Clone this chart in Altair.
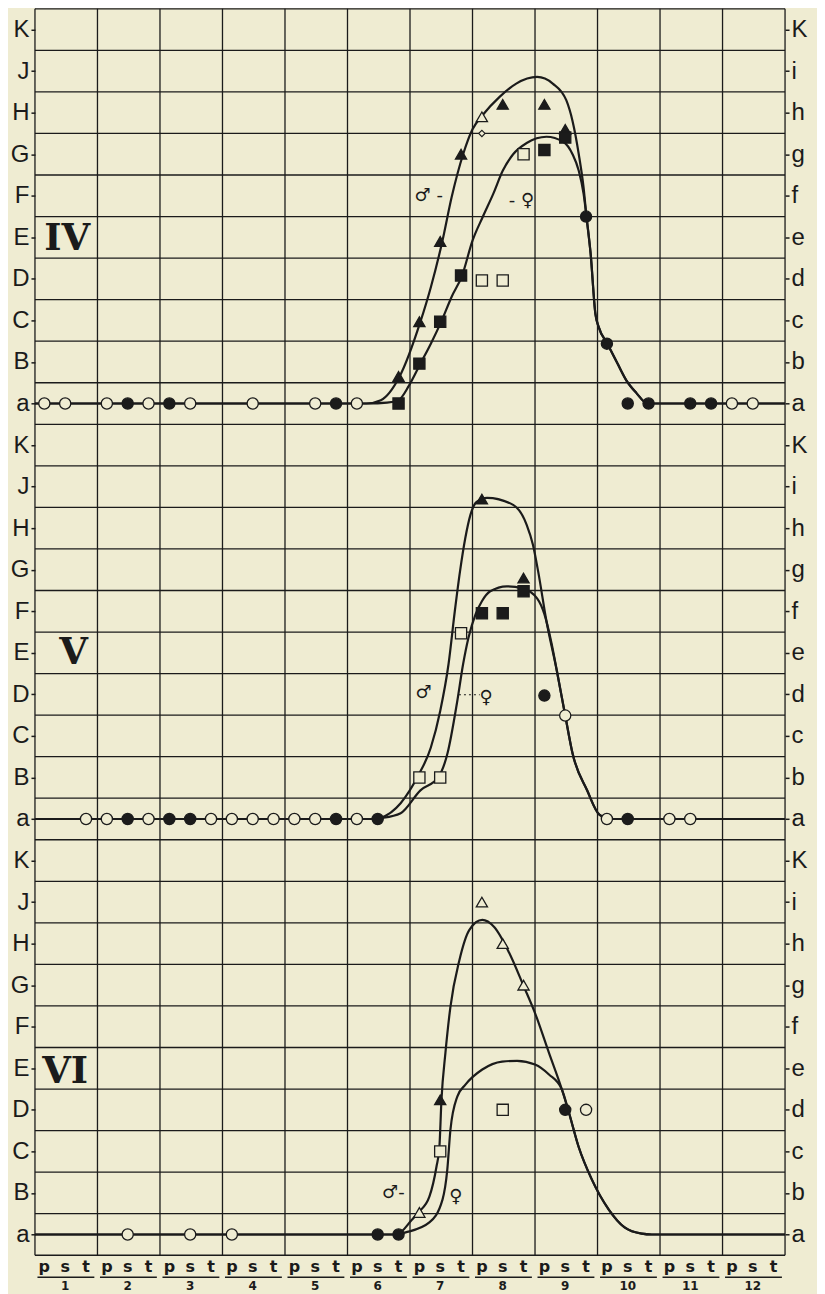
import json
import altair as alt
import pandas as pd

BG = "#efecd2"
INK = "#1b1b1b"
W, H = 751, 1248

# ---------------- axes / categories ----------------
LEFT_LEVELS = ["a", "B", "C", "D", "E", "F", "G", "H", "J", "K"]
RIGHT_LEVELS = ["a", "b", "c", "d", "e", "f", "g", "h", "i", "K"]
SUBS = ["p", "s", "t"]
GROUPS = [str(g) for g in range(1, 13)]
PANELS = ["IV", "V", "VI"]
PANEL_BASE = {"IV": 20, "V": 10, "VI": 0}
SLOT_CENTER = 0.45

# ---------------- Panel IV markers (slot index 0..35, level a=0 .. K=9) ----------------
IV_CIRCLE_SLOT = [0, 1, 3, 4, 5, 6, 7, 10, 13, 14, 15, 26, 27, 28, 29, 31, 32, 33, 34]
IV_CIRCLE_LEVEL = [0, 0, 0, 0, 0, 0, 0, 0, 0, 0, 0, 4.5, 1.44, 0, 0, 0, 0, 0, 0]
IV_CIRCLE_STATE = ["o", "o", "o", "f", "o", "f", "o", "o", "o", "f", "o", "f", "f", "f", "f", "f", "f", "o", "o"]
IV_TRI_SLOT = [17, 18, 19, 20, 21, 22, 24, 25]
IV_TRI_LEVEL = [0.65, 1.97, 3.9, 6.0, 6.9, 7.2, 7.2, 6.6]
IV_TRI_STATE = ["f", "f", "f", "f", "o", "f", "f", "f"]
IV_SQ_SLOT = [17, 18, 19, 20, 21, 22, 23, 24, 25]
IV_SQ_LEVEL = [0.0, 0.96, 1.97, 3.08, 2.96, 2.96, 6.0, 6.1, 6.4]
IV_SQ_STATE = ["f", "f", "f", "f", "o", "o", "o", "f", "f"]
IV_SMALL_SLOT = [21]
IV_SMALL_LEVEL = [6.5]

# ---------------- Panel V markers ----------------
V_CIRCLE_SLOT = [2, 3, 4, 5, 6, 7, 8, 9, 10, 11, 12, 13, 14, 15, 16, 24, 25, 27, 28, 30, 31]
V_CIRCLE_LEVEL = [0] * 15 + [2.97, 2.49, 0, 0, 0, 0]
V_CIRCLE_STATE = ["o", "o", "f", "o", "f", "f", "o", "o", "o", "o", "o", "o", "f", "o", "f",
                  "f", "o", "o", "f", "o", "o"]
V_TRI_SLOT = [21, 23]
V_TRI_LEVEL = [7.7, 5.8]
V_TRI_STATE = ["f", "f"]
V_SQ_SLOT = [18, 19, 20, 21, 22, 23]
V_SQ_LEVEL = [1.0, 1.0, 4.47, 4.95, 4.95, 5.48]
V_SQ_STATE = ["o", "o", "o", "f", "f", "f"]

# ---------------- Panel VI markers ----------------
VI_CIRCLE_SLOT = [4, 7, 9, 16, 17, 25, 26]
VI_CIRCLE_LEVEL = [0, 0, 0, 0, 0, 3.0, 3.0]
VI_CIRCLE_STATE = ["o", "o", "o", "f", "f", "f", "o"]
VI_TRI_SLOT = [18, 19, 21, 22, 23]
VI_TRI_LEVEL = [0.53, 3.24, 8.0, 7.0, 6.0]
VI_TRI_STATE = ["o", "f", "o", "o", "o"]
VI_SQ_SLOT = [19, 22]
VI_SQ_LEVEL = [2.0, 3.0]
VI_SQ_STATE = ["o", "o"]

# ---------------- hand-drawn curves (x in slot units, y in levels) ----------------
IV_MALE_X = [0, 15.9, 16.6, 17.5, 18.5, 19.0, 19.55, 20.0, 20.55, 21.0, 21.5, 22.3, 23.1, 24.1,
             24.85, 25.5, 25.8, 26.1, 26.33, 26.47, 26.67, 26.9, 27.05, 27.47, 27.96, 28.39, 28.87, 29.4, 36]
IV_MALE_Y = [0, 0, 0.08, 0.65, 1.97, 2.8, 3.9, 4.97, 6.0, 6.6, 6.95, 7.38, 7.7, 7.86,
             7.7, 7.3, 6.8, 6.0, 5.2, 4.5, 3.6, 2.15, 1.85, 1.44, 0.96, 0.55, 0.25, 0, 0]
IV_FEMALE_X = [0, 16.0, 16.9, 17.45, 17.95, 18.5, 19.0, 19.5, 20.0, 20.5, 21.0, 21.5, 22.0, 22.45,
               22.95, 23.6, 24.55, 25.35, 25.8, 26.1, 26.33, 26.47, 26.67, 26.9, 27.05, 27.47, 27.96,
               28.39, 28.87, 29.4, 36]
IV_FEMALE_Y = [0, 0, 0.02, 0.08, 0.43, 0.96, 1.44, 1.97, 2.57, 3.08, 3.92, 4.5, 5.05, 5.6,
               6.0, 6.27, 6.42, 6.3, 6.0, 5.6, 5.05, 4.5, 3.6, 2.15, 1.85, 1.44, 0.96,
               0.55, 0.25, 0, 0]

V_MALE_X = [0, 16.3, 16.6, 17.55, 18.4, 19.0, 19.45, 19.85, 20.15, 20.4, 20.65, 20.9, 21.2, 21.7,
            22.95, 23.6, 23.9, 24.15, 24.55, 25.05, 25.45, 25.8, 26.5, 27.1, 27.7, 36]
V_MALE_Y = [0, 0, 0.03, 0.38, 1.05, 1.72, 2.6, 3.73, 5.0, 5.96, 6.75, 7.32, 7.63, 7.73,
            7.56, 7.08, 6.6, 5.96, 4.76, 3.56, 2.49, 1.58, 0.69, 0.1, 0, 0]
V_FEMALE_X = [0, 16.3, 16.6, 17.55, 18.5, 19.35, 19.8, 20.25, 20.55, 20.8, 21.15, 21.45, 21.85,
              22.65, 23.4, 24.1, 24.45, 24.8, 25.05, 25.45, 25.8, 26.5, 27.1, 27.7, 36]
V_FEMALE_Y = [0, 0, 0.02, 0.14, 0.69, 1.0, 1.58, 2.78, 3.73, 4.35, 4.93, 5.24, 5.48,
              5.6, 5.55, 5.31, 4.93, 4.21, 3.56, 2.49, 1.58, 0.69, 0.1, 0, 0]

VI_MALE_X = [0, 17.35, 18.1, 18.4, 18.93, 19.27, 19.41, 19.51, 19.7, 19.94, 20.37, 20.85, 21.47,
             22.04, 22.76, 23.47, 24.0, 24.67, 25.29, 25.63, 26.1, 26.73, 27.54, 28.3, 29.12, 29.6, 36]
VI_MALE_Y = [0, 0, 0.36, 0.53, 0.91, 1.63, 2.1, 3.24, 4.37, 5.48, 6.6, 7.33, 7.57,
             7.4, 6.78, 5.96, 5.33, 4.37, 3.49, 2.93, 2.1, 1.32, 0.6, 0.17, 0.02, 0, 0]
VI_FEMALE_X = [0, 17.35, 17.79, 18.93, 19.56, 19.79, 19.94, 20.27, 20.65, 21.47, 22.42, 23.14,
               24.0, 24.67, 25.29, 25.63, 26.1, 26.73, 27.54, 28.3, 29.12, 29.6, 36]
VI_FEMALE_Y = [0, 0, 0.05, 0.29, 0.84, 1.56, 2.52, 3.32, 3.6, 3.97, 4.16, 4.18,
               4.09, 3.85, 3.49, 2.93, 2.1, 1.32, 0.6, 0.17, 0.02, 0, 0]

# ---------------- annotations ----------------
SEX_TEXT = ["♂ -", "- ♀", "♂", "♀", "♂-", "♀"]
SEX_PANEL = ["IV", "IV", "V", "V", "VI", "VI"]
SEX_X = [18.9, 23.35, 18.65, 21.65, 17.2, 20.2]
SEX_LEVEL = [5.0, 4.88, 3.04, 2.92, 1.0, 0.9]
DOT_PANEL = ["V"]
DOT_X0 = [20.35]
DOT_X1 = [21.35]
DOT_LEVEL = [2.99]
NUMERAL_X = [1.55, 1.85, 1.45]
NUMERAL_LEVEL = [3.95, 4.0, 3.9]

# ---------------- tables ----------------
def marker_rows(panel, shape, slots, levels, states):
    return [{"x": s + SLOT_CENTER, "y": PANEL_BASE[panel] + l, "shape": shape,
             "state": "filled" if st == "f" else "open"}
            for s, l, st in zip(slots, levels, states)]

rows = []
rows += marker_rows("IV", "circle", IV_CIRCLE_SLOT, IV_CIRCLE_LEVEL, IV_CIRCLE_STATE)
rows += marker_rows("IV", "triangle", IV_TRI_SLOT, IV_TRI_LEVEL, IV_TRI_STATE)
rows += marker_rows("IV", "square", IV_SQ_SLOT, IV_SQ_LEVEL, IV_SQ_STATE)
rows += marker_rows("V", "circle", V_CIRCLE_SLOT, V_CIRCLE_LEVEL, V_CIRCLE_STATE)
rows += marker_rows("V", "triangle", V_TRI_SLOT, V_TRI_LEVEL, V_TRI_STATE)
rows += marker_rows("V", "square", V_SQ_SLOT, V_SQ_LEVEL, V_SQ_STATE)
rows += marker_rows("VI", "circle", VI_CIRCLE_SLOT, VI_CIRCLE_LEVEL, VI_CIRCLE_STATE)
rows += marker_rows("VI", "triangle", VI_TRI_SLOT, VI_TRI_LEVEL, VI_TRI_STATE)
rows += marker_rows("VI", "square", VI_SQ_SLOT, VI_SQ_LEVEL, VI_SQ_STATE)
markers_df = pd.DataFrame(rows)
small_df = pd.DataFrame(marker_rows("IV", "diamond", IV_SMALL_SLOT, IV_SMALL_LEVEL, ["o"]))

curve_rows = []
for name, panel, xs_, ys_ in [("IV_m", "IV", IV_MALE_X, IV_MALE_Y), ("IV_f", "IV", IV_FEMALE_X, IV_FEMALE_Y),
                              ("V_m", "V", V_MALE_X, V_MALE_Y), ("V_f", "V", V_FEMALE_X, V_FEMALE_Y),
                              ("VI_m", "VI", VI_MALE_X, VI_MALE_Y), ("VI_f", "VI", VI_FEMALE_X, VI_FEMALE_Y)]:
    for i, (x, y) in enumerate(zip(xs_, ys_)):
        curve_rows.append({"curve": name, "i": i, "x": x, "y": PANEL_BASE[panel] + y})
curves_df = pd.DataFrame(curve_rows)

sex_df = pd.DataFrame({"x": SEX_X, "y": [PANEL_BASE[p] + l for p, l in zip(SEX_PANEL, SEX_LEVEL)],
                       "t": SEX_TEXT})
dot_df = pd.DataFrame({"x": DOT_X0, "x2": DOT_X1,
                       "y": [PANEL_BASE[p] + l for p, l in zip(DOT_PANEL, DOT_LEVEL)]})
num_df = pd.DataFrame({"x": NUMERAL_X, "y": [PANEL_BASE[p] + l for p, l in zip(PANELS, NUMERAL_LEVEL)],
                       "t": PANELS})

n_rows = len(PANELS) * len(LEFT_LEVELS)
hgrid_df = pd.DataFrame({"y": [k - 0.5 for k in range(n_rows + 1)]})
vgrid_df = pd.DataFrame({"x": [3 * g for g in range(len(GROUPS) + 1)]})
levels_df = pd.DataFrame({"y": list(range(n_rows))})

sub_df = pd.DataFrame([{"x": 3 * gi + k + SLOT_CENTER, "t": s}
                       for gi in range(len(GROUPS)) for k, s in enumerate(SUBS)])
grp_df = pd.DataFrame({"xc": [3 * gi + 1 + SLOT_CENTER for gi in range(len(GROUPS))],
                       "x0": [3 * gi + 0.12 for gi in range(len(GROUPS))],
                       "x1": [3 * gi + 2.85 for gi in range(len(GROUPS))],
                       "g": GROUPS})

# ---------------- chart ----------------
xs = alt.Scale(domain=[0, 36], nice=False, zero=False)
ys = alt.Scale(domain=[-0.5, n_rows - 0.5], nice=False, zero=False)


def yenc(field="y", axis=None):
    return alt.Y(f"{field}:Q", scale=ys, axis=axis)


def xenc(field="x"):
    return alt.X(f"{field}:Q", scale=xs, axis=None)


def level_axis(orient, labels):
    return alt.Axis(orient=orient, values=list(range(n_rows)),
                    labelExpr=json.dumps(labels) + "[datum.value % 10]",
                    ticks=True, tickSize=4, tickWidth=1.5, tickColor=INK,
                    domain=False, grid=False, title=None,
                    labelFont="Liberation Sans", labelFontSize=24, labelColor=INK,
                    labelPadding=2, labelFlush=False, labelOverlap=False, labelBound=False)


hgrid = alt.Chart(hgrid_df).mark_rule(color=INK, strokeWidth=1.3).encode(y=yenc())
vgrid = alt.Chart(vgrid_df).mark_rule(color=INK, strokeWidth=1.3).encode(x=xenc())

left_ax = alt.Chart(levels_df).mark_point(opacity=0).encode(
    x=alt.value(0), y=yenc(axis=level_axis("left", LEFT_LEVELS)))
right_ax = alt.Chart(levels_df).mark_point(opacity=0).encode(
    x=alt.value(0), y=yenc(axis=level_axis("right", RIGHT_LEVELS)))

curves = alt.Chart(curves_df).mark_line(color=INK, strokeWidth=2.2, interpolate="monotone").encode(
    x=xenc(), y=yenc(), detail="curve:N", order="i:Q")

marks = alt.Chart(markers_df).mark_point(filled=True, stroke=INK, strokeWidth=1.3, size=125,
                                         opacity=1, fillOpacity=1, strokeOpacity=1).encode(
    x=xenc(), y=yenc(),
    shape=alt.Shape("shape:N", scale=alt.Scale(domain=["circle", "triangle", "square"],
                                               range=["circle", "triangle-up", "square"]), legend=None),
    fill=alt.Fill("state:N", scale=alt.Scale(domain=["filled", "open"], range=[INK, BG]), legend=None))

small = alt.Chart(small_df).mark_point(shape="diamond", filled=True, fill=BG, stroke=INK,
                                       strokeWidth=1.1, size=40, opacity=1).encode(x=xenc(), y=yenc())

sex = alt.Chart(sex_df).mark_text(font="DejaVu Sans", fontSize=18, color=INK).encode(
    x=xenc(), y=yenc(), text="t:N")
dots = alt.Chart(dot_df).mark_rule(color=INK, strokeWidth=1, strokeDash=[2, 3]).encode(
    x=xenc(), x2="x2:Q", y=yenc())
numerals = alt.Chart(num_df).mark_text(font="DejaVu Serif", fontSize=37, fontWeight="bold",
                                       color=INK).encode(x=xenc(), y=yenc(), text="t:N")

subs = alt.Chart(sub_df).mark_text(font="DejaVu Sans", fontSize=16, fontWeight="bold",
                                   color=INK, baseline="middle").encode(
    x=xenc(), y=alt.value(H + 12), text="t:N")
underline = alt.Chart(grp_df).mark_rule(color=INK, strokeWidth=1.6).encode(
    x=xenc("x0"), x2="x1:Q", y=alt.value(H + 22))
nums = alt.Chart(grp_df).mark_text(font="DejaVu Sans", fontSize=12, fontWeight="bold",
                                   color=INK, baseline="middle").encode(
    x=xenc("xc"), y=alt.value(H + 31), text="g:N")

chart = alt.layer(
    hgrid, vgrid, left_ax, right_ax, curves, marks, small, sex, dots, numerals, subs, underline, nums
).properties(
    width=W, height=H,
    autosize=alt.AutoSizeParams(type="none"),
    padding={"left": 27, "top": 0, "right": 32, "bottom": 40},
    background=BG,
).resolve_axis(y="independent").configure_view(stroke=None)

chart.save("out.html", embed_options={"renderer": "svg", "actions": False})
